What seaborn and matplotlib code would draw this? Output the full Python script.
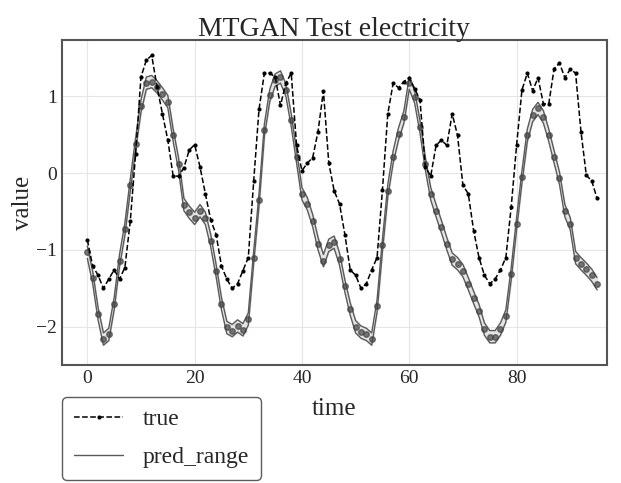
import numpy as np
import pandas as pd
import matplotlib
matplotlib.use("Agg")
import matplotlib.pyplot as plt
import seaborn as sns

# data
true_vals = [-0.87, -1.21, -1.33, -1.50, -1.38, -1.26, -1.38, -1.23, -0.63, 0.25,
             1.25, 1.47, 1.53, 1.12, 0.77, 0.43, -0.04, -0.04, 0.07, 0.30,
             0.37, 0.08, -0.27, -0.61, -0.80, -1.21, -1.38, -1.50, -1.44, -1.27,
             -1.10, -0.11, 0.83, 1.30, 1.30, 1.25, 0.88, 1.17, 1.30, 0.36,
             0.03, 0.13, 0.20, 0.54, 1.07, 0.13, -0.23, -0.40, -0.80, -1.26,
             -1.33, -1.50, -1.44, -1.26, -1.10, -0.22, 0.77, 1.17, 1.11, 1.19,
             1.24, 1.10, 0.95, 0.08, -0.04, 0.36, 0.43, 0.36, 0.77, 0.49,
             -0.16, -0.27, -0.75, -1.10, -1.33, -1.44, -1.38, -1.26, -1.10, -0.44,
             0.36, 1.08, 1.30, 1.07, 1.24, 0.90, 0.90, 1.36, 1.43, 1.24,
             1.35, 1.30, 0.54, -0.03, -0.10, -0.33]

pred_vals = [-1.03, -1.36, -1.83, -2.16, -2.10, -1.70, -1.14, -0.73, -0.16, 0.38,
             0.87, 1.17, 1.19, 1.12, 1.03, 0.93, 0.49, 0.12, -0.41, -0.51,
             -0.59, -0.49, -0.59, -0.88, -1.27, -1.70, -2.01, -2.05, -1.99, -2.04,
             -1.90, -1.10, -0.35, 0.56, 1.01, 1.21, 1.25, 1.08, 0.69, 0.21,
             -0.27, -0.40, -0.62, -0.92, -1.14, -0.94, -0.90, -1.12, -1.47, -1.77,
             -2.00, -2.07, -2.10, -2.16, -1.73, -0.94, -0.23, 0.21, 0.51, 0.73,
             1.17, 0.99, 0.60, 0.12, -0.27, -0.49, -0.70, -0.92, -1.12, -1.18,
             -1.27, -1.44, -1.62, -1.79, -2.03, -2.13, -2.13, -2.03, -1.86, -1.31,
             -0.66, -0.05, 0.49, 0.75, 0.84, 0.73, 0.49, 0.21, -0.07, -0.49,
             -0.66, -1.10, -1.18, -1.25, -1.33, -1.44]

band_half = 0.08

df = pd.DataFrame({"time": np.arange(len(true_vals)), "true": true_vals, "pred": pred_vals})

sns.set_style("whitegrid")
plt.rcParams['font.family'] = ['Liberation Serif', 'DejaVu Serif']
plt.rcParams['axes.edgecolor'] = '#555555'
plt.rcParams['grid.color'] = '#e6e6e6'

fig = plt.figure(figsize=(6.21, 4.83), dpi=100)
ax = fig.add_axes([0.10, 0.244, 0.877, 0.673])

lower = df["pred"] - band_half
upper = df["pred"] + band_half
ax.fill_between(df["time"], lower, upper, color='#e4e4e4', zorder=2)
ax.plot(df["time"], lower, color='#5a5a5a', lw=1.0, zorder=3)
ax.plot(df["time"], upper, color='#5a5a5a', lw=1.0, zorder=3, label='pred_range')
ax.plot(df["time"], df["pred"], ls='none', marker='o', ms=4, color='#444444', alpha=0.7, zorder=4)

sns.lineplot(data=df, x="time", y="true", ax=ax, color='black', linestyle='--', lw=1.1,
             marker='o', markersize=3, markeredgewidth=0, label='true', zorder=5)

ax.set_xlim(-4.7, 96.8)
ax.set_ylim(-2.5, 1.73)
ax.set_xticks([0, 20, 40, 60, 80])
ax.set_yticks([-2, -1, 0, 1])
ax.tick_params(direction='in', labelsize=14, length=3, color='#555555')
for s in ax.spines.values():
    s.set_linewidth(1.5)

ax.set_title('MTGAN Test electricity', fontsize=20, pad=3)
ax.set_xlabel('time', fontsize=18, labelpad=8)
ax.set_ylabel('value', fontsize=18, labelpad=2)

h, l = ax.get_legend_handles_labels()
order = [l.index('true'), l.index('pred_range')]
leg = ax.legend([h[i] for i in order], [l[i] for i in order], loc='upper left',
                bbox_to_anchor=(0.0, -0.098), borderaxespad=0, fontsize=17,
                frameon=True, fancybox=True, edgecolor='#333333', handlelength=2.1,
                labelspacing=0.68, borderpad=0.5, handletextpad=0.8)
leg.get_frame().set_linewidth(1.0)

plt.savefig('out.png', dpi=100)
